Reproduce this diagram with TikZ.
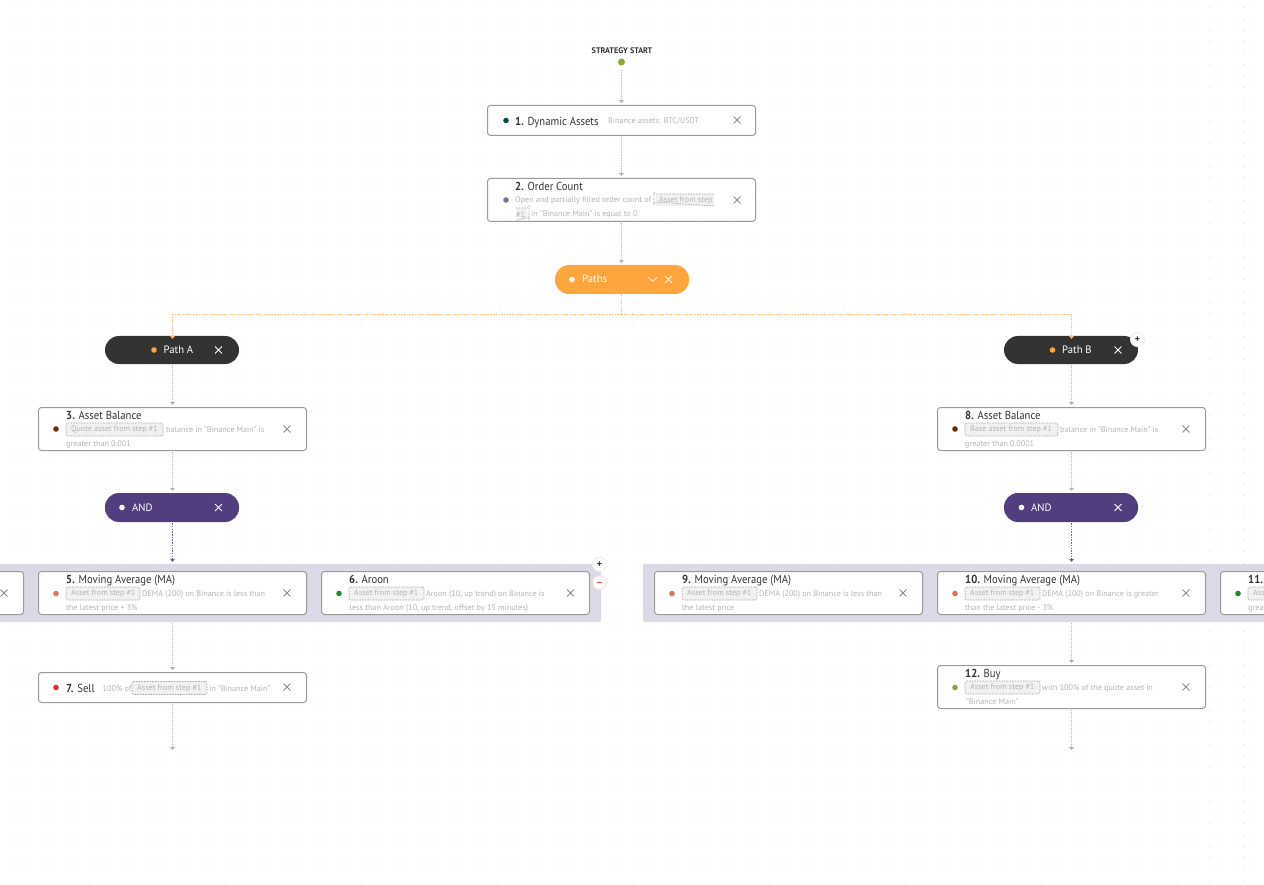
\documentclass[tikz,border=0pt]{standalone}
\usepackage{fontspec}
\setmainfont{PT Sans}
\newfontfamily\titlef[FakeStretch=0.92]{PT Sans}
\usetikzlibrary{arrows.meta,calc}
\definecolor{cardline}{HTML}{9A9A9A}
\definecolor{conn}{HTML}{B4B4B4}
\definecolor{desc}{HTML}{B4B4B4}
\definecolor{titlec}{HTML}{333333}
\definecolor{chipfill}{HTML}{F1F1F1}
\definecolor{chipline}{HTML}{A4A4A4}
\definecolor{xc}{HTML}{8A8A8A}
\definecolor{band}{HTML}{DCD9E6}
\definecolor{orangep}{HTML}{FFA53E}
\definecolor{orangel}{HTML}{FFC27A}
\definecolor{darkp}{HTML}{333333}
\definecolor{purp}{HTML}{523E7E}
\definecolor{dotgray}{HTML}{EEEEEE}
\definecolor{dotpink}{HTML}{F9DFE4}
\tikzset{
 x=1pt,y=-1pt,
 card/.style={draw=cardline,line width=1pt,fill=white,rounded corners=3pt,inner sep=0pt,minimum width=268pt},
 pill/.style={rounded corners=14pt,inner sep=0pt,minimum width=134pt,minimum height=29pt},
 titlet/.style={anchor=base west,inner sep=0pt,text=titlec,font=\titlef\fontsize{11.6}{12}\selectfont},
 desct/.style={anchor=base west,inner sep=0pt,text=desc,font=\fontsize{8.15}{10}\selectfont},
 pillt/.style={anchor=base west,inner sep=0pt,text=white,font=\fontsize{10.7}{12}\selectfont},
 chipt/.style={inner sep=0pt,text=desc,font=\fontsize{8.05}{10}\selectfont},
 chipb/.style={draw=chipline,fill=chipfill,line width=.6pt,dash pattern=on 1.5pt off 1.2pt,rounded corners=2pt},
 sdot/.style={circle,inner sep=0pt,minimum size=5.6pt},
 connl/.style={draw=conn,line width=.9pt,dash pattern=on 1pt off 1pt,
   -{Triangle[length=3pt,width=5pt,fill=conn,sep=0pt]}},
 connp/.style={draw=purp!80,line width=.9pt,dash pattern=on 1.5pt off 1.2pt,
   -{Triangle[length=3pt,width=5pt,fill=purp,sep=0pt]}},
 conno/.style={draw=orangel,line width=.9pt,dash pattern=on 1.5pt off 1.2pt,
   -{Triangle[length=3pt,width=5pt,fill=orangep,sep=0pt]}},
 connob/.style={draw=orangel,line width=.9pt,dash pattern=on 1.5pt off 1.2pt},
 btn/.style={circle,fill=white,inner sep=0pt,minimum size=14pt,draw=black!7,line width=1pt},
 btnr/.style={btn,draw=red!14},
}
\newcommand{\crossmark}[4]{\node[inner sep=0pt,minimum size=8pt] (#1) at (#2,#3) {};
  \draw[#4,line width=1pt] ($(#1)+(-3.4,-3.4)$) -- ($(#1)+(3.4,3.4)$) ($(#1)+(-3.4,3.4)$) -- ($(#1)+(3.4,-3.4)$);}
\newcommand{\chip}[5]{\node[chipb,minimum width=#3pt-#2pt,minimum height=13pt,inner sep=0pt] (#1) at ({(#2+#3)/2},#4) {};
  \node[chipt,anchor=west] at (#2+5,#4) {#5};}
\begin{document}
\begin{tikzpicture}
\useasboundingbox (0,0) rectangle (1264,885);
\clip (0,0) rectangle (1264,885);
\fill[white] (0,0) rectangle (1264,885);
% background dots
\foreach \j in {0,...,77}{
  \pgfmathsetmacro{\py}{8+11.33*\j}
  \draw[dotgray,line width=1pt,dash pattern=on 1pt off 10.33pt] (8.5,\py) -- (1264,\py);
  \draw[dotpink,line width=1pt,dash pattern=on 1pt off 33pt] (19.8,\py) -- (1264,\py);
}
% bands
\node[fill=band,rounded corners=2pt,inner sep=0pt,minimum width=621pt,minimum height=58pt] (bandA) at (290.5,593) {};
\node[fill=band,rounded corners=2pt,inner sep=0pt,minimum width=660pt,minimum height=58pt] (bandB) at (973,593) {};
% start
\node[inner sep=0pt,font=\fontsize{8.1}{9}\selectfont\bfseries,text=titlec] (startlab) at (622,50.5) {STRATEGY START};
\node[sdot,minimum size=7pt,fill={rgb,255:red,138;green,173;blue,58}] (start) at (621.5,62) {};
% cards
\node[card,minimum height=30pt] (c1) at (621.5,120.5) {};
\node[card,minimum height=43pt] (c2) at (621.5,200) {};
\node[pill,fill=orangep] (paths) at (622,279.5) {};
\node[pill,fill=darkp,minimum height=28pt] (pa) at (172,350) {};
\node[pill,fill=darkp,minimum height=28pt] (pb) at (1071,350) {};
\node[card,minimum height=43pt] (c3) at (172.5,429) {};
\node[card,minimum height=43pt] (c8) at (1071.5,429) {};
\node[pill,fill=purp] (anda) at (172,507.5) {};
\node[pill,fill=purp] (andb) at (1071,507.5) {};
\node[card,minimum height=43pt] (c4) at (-110.5,593) {};
\node[card,minimum height=43pt] (c5) at (172.5,593) {};
\node[card,minimum height=43pt] (c6) at (455.5,593) {};
\node[card,minimum height=43pt] (c9) at (788.5,593) {};
\node[card,minimum height=43pt] (c10) at (1071.5,593) {};
\node[card,minimum height=43pt] (c11) at (1354.5,593) {};
\node[card,minimum height=30pt] (c7) at (172.5,687.5) {};
\node[card,minimum height=43pt] (c12) at (1071.5,687) {};
\coordinate (endA) at (172.5,750);
\coordinate (endB) at (1071.5,750);
\coordinate (busM) at (621.5,314.5);
% connectors
\draw[connl,shorten <=4pt,shorten >=2pt] (start.south) -- (start.south |- c1.north);
\draw[connl,shorten >=2pt] (c1.south) -- (c2.north);
\draw[connl,shorten <=1pt,shorten >=1.5pt] (c2.south) -- (c2.south |- paths.north);
\draw[connob] (paths.south -| busM) -- (busM);
\draw[conno] (busM) -| ([yshift=-3pt]pa.north -| endA);
\draw[conno] (busM) -| ([yshift=-3pt]pb.north -| endB);
\draw[connl,shorten <=1pt,shorten >=2pt] (pa.south -| endA) -- (c3.north);
\draw[connl,shorten <=1pt,shorten >=2pt] (pb.south -| endB) -- (c8.north);
\draw[connl,shorten <=1pt,shorten >=2pt] (c3.south) -- (c3.south |- anda.north);
\draw[connl,shorten <=1pt,shorten >=2pt] (c8.south) -- (c8.south |- andb.north);
\draw[connp,shorten <=1pt,shorten >=2pt] (anda.south -| endA) -- (bandA.north -| endA);
\draw[connp,shorten <=1pt,shorten >=2pt] (andb.south -| endB) -- (bandB.north -| endB);
\draw[connl,shorten <=1pt,shorten >=2pt] (bandA.south -| endA) -- (c7.north -| endA);
\draw[connl,shorten <=1pt,shorten >=2pt] (bandB.south -| endB) -- (c12.north -| endB);
\draw[connl,shorten <=1pt] (c7.south -| endA) -- (endA);
\draw[connl,shorten <=1pt] (c12.south -| endB) -- (endB);
% card 1
\node[sdot,fill={rgb,255:red,10;green,74;blue,80}] (d1) at (506,120.5) {};
\node[titlet] (t1) at (515,125.5) {\textbf{1.} Dynamic Assets};
\node[desct] (s1) at (608,124) {Binance assets: BTC/USDT};
\crossmark{x1}{737}{120}{xc}
% card 2
\node[sdot,fill={rgb,255:red,107;green,122;blue,153}] (d2) at (506,200) {};
\node[titlet] (t2) at (515,190.5) {\textbf{2.} Order Count};
\node[desct] (s2) at (515,203) {Open and partially filled order count of};
\fill[chipfill] (714,194) rectangle (656,206);
\draw[draw=chipline,line width=.6pt,dash pattern=on 1.5pt off 1.2pt] (714,194) -- (656,194) arc[start angle=90,end angle=180,radius=2] -- (654,204) arc[start angle=180,end angle=270,radius=2] -- (714,206);
\node[chipt,anchor=west] (q2) at (659,200) {Asset from step};
\fill[chipfill] (516,208) rectangle (527,221);
\draw[draw=chipline,line width=.6pt,dash pattern=on 1.5pt off 1.2pt] (516,208) -- (527,208) arc[start angle=90,end angle=0,radius=2] -- (529,219) arc[start angle=0,end angle=-90,radius=2] -- (516,221);
\node[chipt,anchor=west] (q2b) at (516,214.5) {\#1};
\node[desct] (s2b) at (531,217) {in "Binance Main" is equal to 0};
\crossmark{x2}{737}{200}{xc}
% paths
\node[sdot,fill=white] (d3) at (572,279.5) {};
\node[pillt] (t3) at (582,283) {Paths};
\draw[white!65!orangep,line width=1.2pt] (648,277.5) -- (652.5,281) -- (657,277.5);
\crossmark{x3}{668.5}{279.5}{white}
% path A / B
\node[sdot,fill=orangep] (d4) at (154,350) {};
\node[pillt] (t4) at (163.5,354) {Path A};
\crossmark{x4}{218.5}{350}{white}
\node[sdot,fill=orangep] (d5) at (1052.5,350) {};
\node[pillt] (t5) at (1062,354) {Path B};
\crossmark{x5}{1118}{350}{white}
\node[btn] (b1) at (1137.5,339.5) {};
\node[inner sep=0pt,font=\fontsize{10}{10}\selectfont\bfseries,text=titlec] at (b1) {+};
% card 3
\node[sdot,fill={rgb,255:red,107;green,46;blue,10}] (d6) at (56,429) {};
\node[titlet] (t6) at (66,419) {\textbf{3.} Asset Balance};
\chip{q6}{66}{163}{429.5}{Quote asset from step \#1}
\node[desct] (s6) at (166,432) {balance in "Binance Main" is};
\node[desct] (s6b) at (66,446) {greater than 0.001};
\crossmark{x6}{287}{429}{xc}
% card 8
\node[sdot,fill={rgb,255:red,107;green,46;blue,10}] (d7) at (955,429) {};
\node[titlet] (t7) at (965,419) {\textbf{8.} Asset Balance};
\chip{q7}{965}{1058}{429.5}{Base asset from step \#1}
\node[desct] (s7) at (1060,432) {balance in "Binance Main" is};
\node[desct] (s7b) at (965,446) {greater than 0.0001};
\crossmark{x7}{1186}{429}{xc}
% AND
\node[sdot,fill=white] (d8) at (122,507.5) {};
\node[pillt] (t8) at (132,511) {AND};
\crossmark{x8}{218.5}{507.5}{white}
\node[sdot,fill=white] (d9) at (1021.5,507.5) {};
\node[pillt] (t9) at (1031,511) {AND};
\crossmark{x9}{1118}{507.5}{white}
% row A
\crossmark{x10}{4}{593}{xc}
\node[sdot,fill={rgb,255:red,224;green,116;blue,90}] (d11) at (56,593.5) {};
\node[titlet] (t11) at (66,583) {\textbf{5.} Moving Average (MA)};
\chip{q11}{66}{140}{593.5}{Asset from step \#1}
\node[desct] (s11) at (142,596) {DEMA (200) on Binance is less than};
\node[desct] (s11b) at (66,610) {the latest price + 3\%};
\crossmark{x11}{287}{593}{xc}
\node[sdot,fill={rgb,255:red,31;green,138;blue,42}] (d12) at (339,593.5) {};
\node[titlet] (t12) at (349,583) {\textbf{6.} Aroon};
\chip{q12}{349}{424}{593.5}{Asset from step \#1}
\node[desct] (s12) at (426,596) {Aroon (10, up trend) on Binance is};
\node[desct] (s12b) at (349.5,610) {less than Aroon (10, up trend, offset by 15 minutes)};
\crossmark{x12}{570.5}{593}{xc}
\node[btn] (b2) at (599.5,564.5) {};
\node[inner sep=0pt,font=\fontsize{10}{10}\selectfont\bfseries,text=titlec] at (b2) {+};
\node[btnr] (b3) at (599.5,582.5) {};
\draw[red!70!white,line width=1pt] ($(b3)+(-2.5,0)$) -- ($(b3)+(2.5,0)$);
% row B
\node[sdot,fill={rgb,255:red,224;green,116;blue,90}] (d13) at (672,593.5) {};
\node[titlet] (t13) at (682,583) {\textbf{9.} Moving Average (MA)};
\chip{q13}{682}{757}{593.5}{Asset from step \#1}
\node[desct] (s13) at (759,596) {DEMA (200) on Binance is less than};
\node[desct] (s13b) at (682,610) {the latest price};
\crossmark{x13}{903}{593}{xc}
\node[sdot,fill={rgb,255:red,224;green,116;blue,90}] (d14) at (955,593.5) {};
\node[titlet] (t14) at (965,583) {\textbf{10.} Moving Average (MA)};
\chip{q14}{965}{1040}{593.5}{Asset from step \#1}
\node[desct] (s14) at (1042,596) {DEMA (200) on Binance is greater};
\node[desct] (s14b) at (965,610) {than the latest price - 3\%};
\crossmark{x14}{1186}{593}{xc}
\node[sdot,fill={rgb,255:red,31;green,138;blue,42}] (d15) at (1238,593.5) {};
\node[titlet] (t15) at (1248,583) {\textbf{11.}};
\chip{q15}{1248}{1323}{593.5}{Asset from step \#1}
\node[desct] (s15b) at (1248,610) {greater};
% card 7
\node[sdot,fill={rgb,255:red,224;green,43;blue,43}] (d16) at (56,687.5) {};
\node[titlet] (t16) at (66,692) {\textbf{7.} Sell};
\node[desct] (s16) at (102.5,691) {100\% of};
\chip{q16}{132}{207}{688}{Asset from step \#1}
\node[desct] (s16b) at (209,691) {in "Binance Main"};
\crossmark{x16}{287}{687}{xc}
% card 12
\node[sdot,fill={rgb,255:red,138;green,168;blue,58}] (d17) at (955,687.5) {};
\node[titlet] (t17) at (965,677) {\textbf{12.} Buy};
\chip{q17}{965}{1040}{687.5}{Asset from step \#1}
\node[desct] (s17) at (1042,690) {with 100\% of the quote asset in};
\node[desct] (s17b) at (966,704) {"Binance Main"};
\crossmark{x17}{1186}{687}{xc}
\end{tikzpicture}
\end{document}
